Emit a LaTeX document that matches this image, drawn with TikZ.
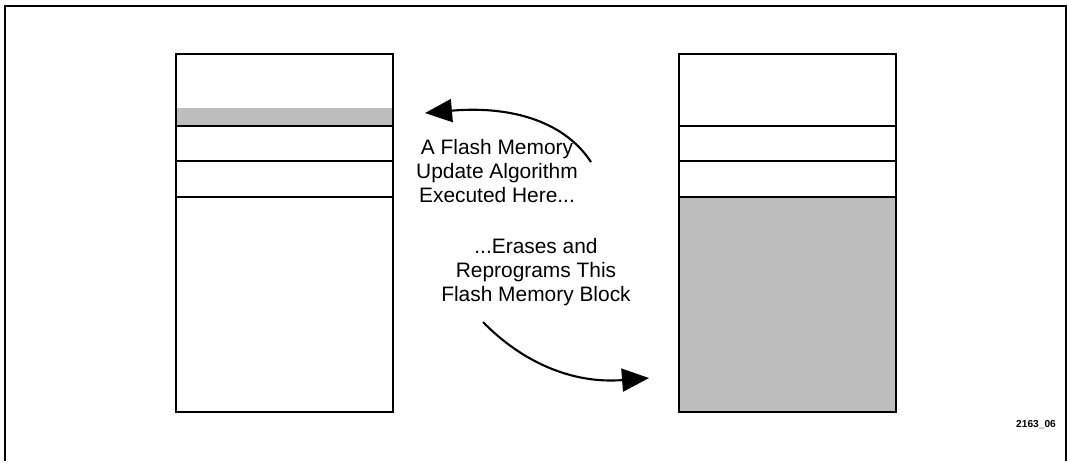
\documentclass[tikz,border=0pt]{standalone}
\usepackage{fontspec}
\setmainfont{Liberation Sans}
\usetikzlibrary{arrows.meta}
\definecolor{stipple}{HTML}{BDBDBD}

\begin{document}
\begin{tikzpicture}[
  x=0.02cm, y=-0.02cm,
  every node/.style={font=\fontsize{11.9pt}{13.6pt}\selectfont},
  block/.style={draw, line width=1.3pt},
  divider/.style={line width=1.3pt},
  shade/.style={fill=stipple},
  caption/.style={align=center, inner sep=0pt},
  arrow/.style={-{Triangle[length=0.54cm,width=0.46cm]}, line width=1.2pt},
]
  \useasboundingbox (0,0) rectangle (1067,461);
  \draw[line width=1pt] (5,461) -- (5,6) -- (1066,6) -- (1066,461);

  % left memory map
  \fill[shade] (176,108) rectangle (393,126);
  \node[block, minimum width=4.34cm, minimum height=7.16cm, inner sep=0pt] (left) at (284.5,233) {};
  \foreach \yy in {126,161,197}
    \draw[divider] (left.west |- 0,\yy) -- (left.east |- 0,\yy);

  % right memory map
  \fill[shade] (679,197) rectangle (896,412);
  \node[block, minimum width=4.34cm, minimum height=7.16cm, inner sep=0pt] (right) at (787.5,233) {};
  \foreach \yy in {126,161,197}
    \draw[divider] (right.west |- 0,\yy) -- (right.east |- 0,\yy);

  \node[caption] (algo) at (497,171) {A Flash Memory\\Update Algorithm\\Executed Here...};
  \node[caption] (erase) at (536,272) {...Erases and\\Reprograms This\\Flash Memory Block};

  \coordinate (upTail) at (591,162);
  \coordinate (upTip)  at (425,113);
  \coordinate (dnTail) at (483,322);
  \coordinate (dnTip)  at (649,378);

  \draw[arrow] (upTail) .. controls (562,118) and (505,106) .. (upTip);
  \draw[arrow] (dnTail) .. controls (522,362) and (572,384) .. (dnTip);

  \node[font=\fontsize{5.8pt}{7pt}\selectfont\bfseries] (fig) at (1036,425) {2163\_06};
\end{tikzpicture}
\end{document}
